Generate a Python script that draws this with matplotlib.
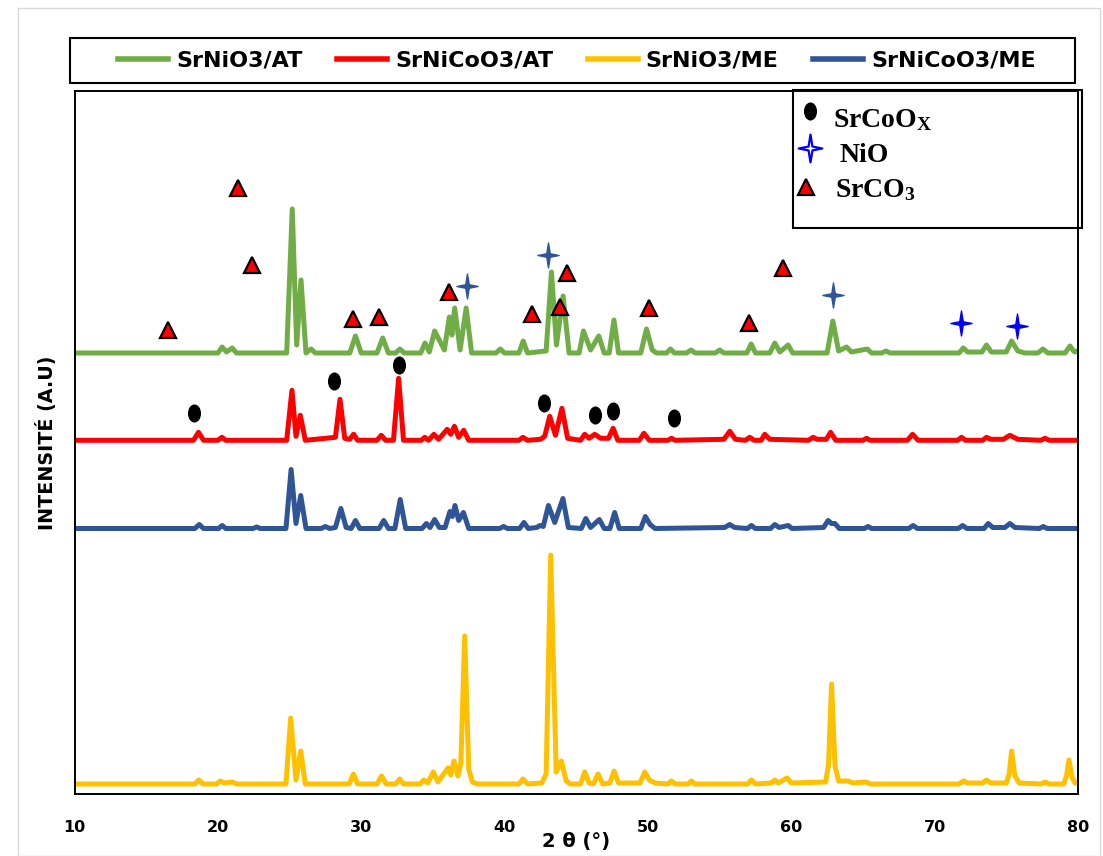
import matplotlib
matplotlib.use("Agg")
import numpy as np
import matplotlib.pyplot as plt
from matplotlib.path import Path
from matplotlib.patches import Rectangle
from matplotlib.lines import Line2D

plt.rcParams['font.family'] = ['DejaVu Sans']
plt.rcParams['mathtext.fontset'] = 'custom'
plt.rcParams['mathtext.bf'] = 'Liberation Serif:bold'
plt.rcParams['mathtext.rm'] = 'Liberation Serif'

# ---- diffractograms (2theta in degrees, intensity a.u. above each baseline)
green_2theta = [10, 20.0, 20.3, 20.6, 21.0, 21.3, 24.8, 25.19, 25.5, 25.8, 26.15, 26.5, 26.8,
                29.2, 29.6, 30.0, 31.1, 31.5, 31.9, 32.4, 32.7, 33.0,
                34.15, 34.45, 34.75, 35.12, 35.8, 36.15, 36.33, 36.52, 36.9, 37.32, 37.7,
                39.4, 39.7, 40.0, 41.0, 41.3, 41.6, 42.9, 43.27, 43.62, 44.08, 44.5,
                45.2, 45.5, 46.0, 46.57, 46.95, 47.3, 47.63, 47.95, 49.5, 49.9, 50.3, 50.6,
                51.3, 51.57, 51.85, 52.7, 53.0, 53.3, 54.7, 55.0, 55.3, 56.9, 57.2, 57.5,
                58.5, 58.85, 59.2, 59.78, 60.1, 62.5, 62.9, 63.3, 63.85, 64.2, 65.3, 65.6,
                66.3, 66.6, 66.9, 71.7, 72.0, 72.3, 73.3, 73.62, 73.95, 75.0, 75.37, 75.8, 76.3,
                77.2, 77.55, 77.9, 79.1, 79.44, 79.75, 80]
green_counts = [0, 0, 6, 1, 5, 0, 0, 144, 8, 73, 0, 4, 0,
                0, 17, 0, 0, 15, 0, 0, 4, 0,
                0, 10, 1, 22, 3, 36, 18, 45, 3, 45, 0,
                0, 4, 0, 0, 12, 0, 2, 81, 8, 57, 0,
                0, 22, 3, 17, 0, 0, 33, 0, 0, 24, 3, 0,
                0, 4, 0, 0, 3, 0, 0, 3, 0, 0, 9, 0,
                0, 10, 1, 8, 0, 0, 32, 2, 6, 1, 4, 0,
                0, 2, 0, 0, 5, 1, 1, 8, 1, 1, 12, 2, 0,
                0, 4, 0, 0, 7, 1, 2]

red_2theta = [10, 18.3, 18.65, 19.0, 20.0, 20.28, 20.55, 24.8, 25.17, 25.45, 25.75, 26.1,
              28.2, 28.52, 28.85, 29.2, 29.47, 29.75, 31.1, 31.4, 31.7, 32.25, 32.61, 32.95,
              34.2, 34.43, 34.7, 35.07, 35.4, 36.0, 36.25, 36.5, 36.8, 37.15, 37.5,
              41.0, 41.28, 41.6, 42.5, 42.8, 43.15, 43.55, 44.0, 44.4,
              45.3, 45.59, 45.9, 46.29, 46.7, 47.25, 47.57, 47.9, 49.4, 49.72, 50.1,
              51.4, 51.64, 51.9, 55.3, 55.71, 56.1, 56.8, 57.1, 57.4, 57.9, 58.15, 58.5,
              61.2, 61.52, 61.8, 62.45, 62.74, 63.1, 65.0, 65.25, 65.5, 68.1, 68.46, 68.85,
              71.6, 71.88, 72.15, 73.35, 73.62, 73.9, 74.8, 75.25, 75.8, 77.4, 77.7, 78.0, 80]
red_counts = [0, 0, 8, 0, 0, 3, 0, 0, 50, 4, 25, 0,
              3, 41, 2, 1, 6, 0, 0, 5, 0, 0, 62, 0,
              0, 3, 0, 6, 1, 11, 6, 14, 3, 10, 0,
              0, 3, 0, 1, 4, 24, 5, 32, 2,
              0, 6, 2, 6, 2, 2, 12, 0, 0, 7, 0,
              0, 2, 0, 1, 9, 1, 0, 3, 0, 0, 6, 1,
              0, 3, 1, 1, 8, 0, 0, 2, 0, 0, 6, 0,
              0, 3, 0, 0, 3, 1, 1, 5, 1, 0, 2, 0, 0]

blue_2theta = [10, 18.4, 18.7, 19.0, 20.05, 20.3, 20.55, 22.45, 22.71, 22.95,
               24.75, 25.11, 25.45, 25.78, 26.15, 27.2, 27.5, 27.8,
               28.2, 28.58, 28.95, 29.3, 29.6, 29.9, 31.25, 31.57, 31.9, 32.35, 32.72, 33.1,
               34.25, 34.54, 34.8, 35.12, 35.45, 35.85, 36.19, 36.36, 36.54, 36.8, 37.13, 37.5,
               39.65, 39.93, 40.2, 41.05, 41.35, 41.65, 42.25, 42.47, 42.7, 43.06, 43.5, 44.07, 44.45,
               45.35, 45.67, 46.0, 46.61, 46.95, 47.35, 47.68, 48.0, 49.5, 49.82, 50.15, 50.5,
               55.35, 55.71, 56.05, 56.95, 57.22, 57.5, 58.55, 58.85, 59.15, 59.78, 60.05,
               62.25, 62.57, 62.8, 63.04, 63.35, 65.1, 65.36, 65.6, 68.2, 68.5, 68.8,
               71.65, 71.95, 72.25, 73.45, 73.74, 74.05, 74.9, 75.25, 75.6, 77.3, 77.58, 77.85, 80]
blue_counts = [0, 0, 4, 0, 0, 3, 0, 0, 1.5, 0,
               0, 59, 5, 33, 0, 0, 2, 0,
               1, 20, 1, 0, 8, 0, 0, 8, 0, 0, 29, 0,
               0, 5, 1, 9, 1, 1, 17, 12, 23, 8, 16, 0,
               0, 2, 0, 0, 6, 0, 1, 3, 2, 23, 6, 30, 1,
               0, 10, 1, 9, 0, 0, 16, 0, 0, 12, 4, 0,
               1, 4, 1, 0, 3, 0, 0, 4, 1, 3, 0,
               1, 8, 5, 5, 0, 0, 2, 0, 0, 3, 0,
               0, 3, 0, 0, 5, 1, 1, 5, 1, 0, 2, 0, 0]

yellow_2theta = [10, 18.4, 18.67, 18.95, 19.9, 20.17, 20.45, 21.04, 21.3,
                 24.75, 25.08, 25.45, 25.78, 26.1, 29.15, 29.46, 29.75, 31.1, 31.42, 31.75,
                 32.4, 32.68, 32.95, 34.1, 34.37, 34.65, 35.03, 35.35, 36.06, 36.25, 36.47,
                 36.75, 36.95, 37.22, 37.5, 37.75, 38.1, 41.0, 41.29, 41.6,
                 42.6, 42.9, 43.22, 43.6, 43.96, 44.3, 44.6, 45.3, 45.59, 45.9, 46.2, 46.52, 46.85,
                 47.35, 47.64, 47.95, 49.45, 49.78, 50.1, 50.5, 51.4, 51.64, 51.9, 52.8, 53.03, 53.25,
                 56.95, 57.22, 57.5, 58.6, 58.85, 59.1, 59.71, 60.0,
                 62.4, 62.6, 62.81, 63.05, 63.3, 63.97, 64.3, 65.24, 65.5,
                 71.7, 72.0, 72.3, 73.35, 73.62, 73.9, 75.0, 75.2, 75.37, 75.6, 75.9,
                 77.45, 77.7, 78.0, 79.0, 79.2, 79.37, 79.6, 79.8, 80]
yellow_counts = [0, 0, 4, 0, 0, 3, 1, 2, 0,
                 0, 66, 4, 33, 0, 0, 10, 0, 0, 8, 0,
                 0, 5, 0, 0, 4, 1, 12, 2, 16, 9, 23,
                 8, 20, 148, 15, 2, 0, 0, 5, 0,
                 1, 10, 229, 12, 23, 3, 0, 0, 12, 1, 0, 10, 0,
                 1, 13, 1, 1, 12, 4, 1, 0, 3, 0, 0, 3, 0,
                 0, 4, 0, 1, 4, 1, 6, 1,
                 2, 20, 100, 18, 3, 3, 1, 2, 0,
                 0, 3, 1, 1, 4, 1, 1, 10, 33, 8, 1,
                 0, 2, 0, 0, 8, 24, 6, 1, 1]

baselines = [441, 353.7, 265.5, 10]
series_names = ['SrNiO3/AT', 'SrNiCoO3/AT', 'SrNiO3/ME', 'SrNiCoO3/ME']

# ---- phase markers (2theta, a.u.)
srcox_2theta = [18.33, 28.10, 32.61, 42.75, 46.29, 47.57, 51.85]
srcox_y = [380.7, 413, 429, 390.7, 378.7, 383, 376]
nio_2theta = [37.36, 43.05, 62.93, 71.82, 75.72]
nio_y = [508, 539, 499, 470.7, 468]
srco3_2theta = [16.55, 21.40, 22.40, 29.42, 31.24, 36.12, 41.94, 43.89, 44.38, 50.08, 57.06, 59.43]
srco3_y = [464, 605.7, 529, 474.7, 477.3, 502.3, 480, 487.3, 520.7, 485.7, 470.7, 525.7]

x_ticks = [10, 20, 30, 40, 50, 60, 70, 80]

# marker shapes
star = Path([(0, 1), (0.14, 0.14), (0.85, 0), (0.14, -0.14), (0, -1), (-0.14, -0.14),
             (-0.85, 0), (-0.14, 0.14), (0, 1)], closed=True)
circ = Path.unit_circle()
ellipse = Path(circ.vertices * np.array([0.7, 1.0]), circ.codes)

colors = ['#70AD47', '#FF0000', '#FFC000', '#2F5597']
W, H = 1103, 856

fig = plt.figure(figsize=(W / 100, H / 100), dpi=100)
ax = fig.add_axes([74.5 / W, 1 - 794 / H, (1078 - 74.5) / W, (794 - 91) / H])

traces = [(green_2theta, green_counts), (red_2theta, red_counts),
          (yellow_2theta, yellow_counts), (blue_2theta, blue_counts)]
base_for = [baselines[0], baselines[1], baselines[3], baselines[2]]
for (tx, ty), b, c in zip(traces, base_for, colors):
    ax.plot(tx, np.array(ty) + b, color=c, lw=3.6, solid_joinstyle='round', zorder=2)

ax.plot(srcox_2theta, srcox_y, ls='none', marker=ellipse, ms=12, color='black', zorder=3)
ax.plot(nio_2theta[:3], nio_y[:3], ls='none', marker=star, ms=18, color='#2F5597',
        mec='#2F5597', zorder=3, clip_on=False)
ax.plot(nio_2theta[3:], nio_y[3:], ls='none', marker=star, ms=18, color='#0000FF',
        mec='#0000FF', zorder=3, clip_on=False)
ax.plot(srco3_2theta, srco3_y, ls='none', marker='^', ms=12, mfc='#FF0000', mec='black',
        mew=1.6, zorder=4)

ax.set_xlim(10, 80)
ax.set_ylim(0, 703)
ax.set_xticks(x_ticks)
ax.set_xticklabels([str(t) for t in x_ticks], fontweight='bold', fontsize=11.5)
ax.tick_params(axis='x', length=0, pad=19)
ax.set_yticks([])
for s in ax.spines.values():
    s.set_linewidth(1.4)
    s.set_color('black')

ax.set_ylabel('INTENSITÉ (A.U)', fontweight='bold', fontsize=13.8)
ax.yaxis.set_label_coords(-0.0178, 0.5)
fig.text(576 / W, 1 - 842 / H, '2 θ (°)', ha='center', va='center', fontweight='bold', fontsize=14)

# outer chart frame
fig.add_artist(Rectangle((18 / W, 0), (1100 - 18) / W, (H - 8) / H, transform=fig.transFigure,
                         fill=False, edgecolor='#D9D9D9', lw=1))

# series legend
fig.add_artist(Rectangle((70 / W, 1 - 83 / H), (1075 - 70) / W, 45 / H, transform=fig.transFigure,
                         fill=False, edgecolor='black', lw=1.5))
handles = [Line2D([], [], color=c, lw=4) for c in colors]
fig.legend(handles, series_names, loc='center', bbox_to_anchor=(577 / W, 1 - 60.5 / H),
           ncol=4, frameon=False, handlelength=2.25, handletextpad=0.36, columnspacing=1.55,
           prop={'weight': 'bold', 'size': 16})

# phase legend
fig.add_artist(Rectangle((793 / W, 1 - 228 / H), (1082 - 793) / W, (228 - 90) / H,
                         transform=fig.transFigure, fill=False, edgecolor='black', lw=1.5, zorder=5))
fig.add_artist(Line2D([810 / W], [1 - 110.7 / H], ls='none', marker=ellipse, ms=12, color='black',
                      transform=fig.transFigure))
fig.add_artist(Line2D([810 / W], [1 - 148.3 / H], ls='none', marker=star, ms=20, mfc='white',
                      mec='#0000FF', mew=1.6, transform=fig.transFigure))
fig.add_artist(Line2D([806 / W], [1 - 187 / H], ls='none', marker='^', ms=12, mfc='#FF0000',
                      mec='black', mew=1.6, transform=fig.transFigure))
fig.text(833 / W, 1 - 127 / H, r'$\mathbf{SrCoO_X}$', fontsize=20, va='baseline')
fig.text(840 / W, 1 - 162 / H, 'NiO', fontsize=20, va='baseline', family='Liberation Serif',
         fontweight='bold')
fig.text(835 / W, 1 - 197 / H, r'$\mathbf{SrCO_3}$', fontsize=20, va='baseline')

fig.savefig('out.png', dpi=100)
